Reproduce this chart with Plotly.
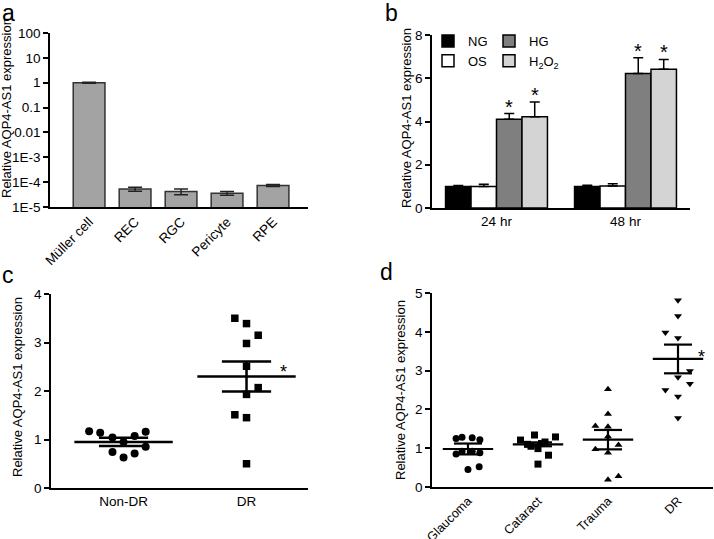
import plotly.graph_objects as go

FONT = "Liberation Sans, Arial, sans-serif"

# ---------------- data ----------------
# panel a
cells = ["Müller cell", "REC", "RGC", "Pericyte", "RPE"]
cell_expr = [1.0, 5.3e-5, 4.2e-5, 3.6e-5, 7.4e-5]
cell_err = [0.05, 1.0e-5, 1.1e-5, 0.6e-5, 0.7e-5]
a_tickvals = [1e-5, 1e-4, 1e-3, 1e-2, 1e-1, 1, 10, 100]
a_ticktext = ["1E-5", "1E-4", "1E-3", "0.01", "0.1", "1", "10", "100"]

# panel b
times = ["24 hr", "48 hr"]
b_names = ["NG", "OS", "HG", "H<sub>2</sub>O<sub>2</sub>"]
b_vals = [[1.0, 1.0], [1.0, 1.02], [4.1, 6.22], [4.22, 6.42]]
b_errs = [[0.04, 0.05], [0.1, 0.1], [0.27, 0.73], [0.68, 0.45]]
b_sig = [False, False, True, True]

# panel c
c_groups = ["Non-DR", "DR"]
c_vals = [
    [1.17, 1.14, 1.04, 0.95, 1.07, 1.16, 0.74, 0.63, 0.71, 0.85],
    [3.50, 3.39, 3.15, 2.98, 2.51, 2.07, 1.93, 1.51, 1.45, 0.50],
]
c_jitter = [
    [-0.28, -0.19, -0.09, 0.0, 0.09, 0.18, -0.09, 0.0, 0.09, 0.18],
    [-0.095, 0.0, 0.095, 0.0, 0.0, 0.095, 0.0, -0.095, 0.0, 0.0],
]
c_mean = [0.95, 2.30]
c_sem = [0.085, 0.31]

# panel d
d_groups = ["Glaucoma", "Cataract", "Trauma", "DR"]
d_vals = [
    [1.25, 1.28, 1.27, 1.22, 0.85, 0.92, 0.92, 0.88, 0.45, 0.52],
    [1.21, 1.34, 1.29, 1.10, 0.99, 1.16, 0.82, 0.59, 1.05, 1.12],
    [2.52, 1.88, 1.57, 1.55, 1.08, 0.97, 0.88, 1.30, 0.19, 0.28],
    [4.81, 4.41, 3.98, 3.84, 2.99, 2.83, 2.66, 2.50, 2.33, 1.78],
]
d_jitter = [
    [-0.17, -0.085, 0.06, 0.17, -0.17, -0.085, 0.06, 0.17, 0.0, 0.16],
    [-0.25, -0.05, 0.25, -0.15, 0.0, 0.1, 0.15, 0.0, -0.1, 0.05],
    [0.0, 0.0, -0.18, 0.0, 0.15, -0.18, 0.0, 0.0, 0.0, 0.15],
    [0.0, 0.0, -0.18, 0.0, 0.17, 0.0, 0.17, -0.18, 0.0, 0.0],
]
d_mean = [0.98, 1.10, 1.22, 3.30]
d_sem = [0.14, 0.05, 0.25, 0.37]
d_symbols = ["circle", "square", "triangle-up", "triangle-down"]

W, H = 714, 539
fig = go.Figure()

# ---------------- panel a ----------------
fig.add_trace(go.Bar(
    x=cells, y=cell_expr, width=0.69,
    marker=dict(color="#a3a3a3", line=dict(color="#333333", width=1.5)),
    error_y=dict(type="data", array=cell_err, color="#222222", thickness=1.5, width=7),
    xaxis="x", yaxis="y", showlegend=False,
))

# ---------------- panel b ----------------
b_colors = ["#000000", "#ffffff", "#7f7f7f", "#d4d4d4"]
b_legend = ["legend", "legend", "legend2", "legend2"]
for k in range(4):
    fig.add_trace(go.Bar(
        x=times, y=b_vals[k], name=b_names[k],
        marker=dict(color=b_colors[k], line=dict(color="#000000", width=1.5)),
        error_y=dict(type="data", array=b_errs[k], arrayminus=[0] * len(times),
                     symmetric=False, color="#000000", thickness=1.5, width=5),
        xaxis="x2", yaxis="y2", legend=b_legend[k],
    ))

# ---------------- panel c ----------------
c_symbols = ["circle", "square"]
for i, g in enumerate(c_groups):
    fig.add_trace(go.Scatter(
        x=[i + j for j in c_jitter[i]], y=c_vals[i], mode="markers",
        marker=dict(symbol=c_symbols[i], size=8 if i == 0 else 7.5, color="black"),
        xaxis="x3", yaxis="y3", showlegend=False,
    ))
for i, g in enumerate(c_groups):
    m, s = c_mean[i], c_sem[i]
    fig.add_trace(go.Scatter(
        x=[i - 0.40, i + 0.40], y=[m, m], mode="lines",
        line=dict(color="black", width=2.5), xaxis="x3", yaxis="y3", showlegend=False))
    fig.add_trace(go.Scatter(
        x=[i - 0.2, i + 0.2, None, i - 0.2, i + 0.2, None, i, i],
        y=[m + s, m + s, None, m - s, m - s, None, m - s, m + s], mode="lines",
        line=dict(color="black", width=2.5), xaxis="x3", yaxis="y3", showlegend=False))

# ---------------- panel d ----------------
for i, g in enumerate(d_groups):
    fig.add_trace(go.Scatter(
        x=[i + j for j in d_jitter[i]], y=d_vals[i], mode="markers",
        marker=dict(symbol=d_symbols[i], size=7, color="black"),
        xaxis="x4", yaxis="y4", showlegend=False,
    ))
for i, g in enumerate(d_groups):
    m, s = d_mean[i], d_sem[i]
    fig.add_trace(go.Scatter(
        x=[i - 0.36, i + 0.36], y=[m, m], mode="lines",
        line=dict(color="black", width=2.2), xaxis="x4", yaxis="y4", showlegend=False))
    fig.add_trace(go.Scatter(
        x=[i - 0.2, i + 0.2, None, i - 0.2, i + 0.2, None, i, i],
        y=[m + s, m + s, None, m - s, m - s, None, m - s, m + s], mode="lines",
        line=dict(color="black", width=2.2), xaxis="x4", yaxis="y4", showlegend=False))

# ---------------- axes ----------------
def px_x(p):
    return p / W

def px_y(p):
    return 1 - p / H

TICKSIZE = 13.5
axis_common = dict(showline=True, linecolor="black", linewidth=1.5, showgrid=False,
                   zeroline=False, automargin=False,
                   tickfont=dict(size=TICKSIZE, color="black", family=FONT))
yaxis_common = dict(axis_common, ticks="outside", ticklen=5, tickwidth=1.5, tickcolor="black")
xaxis_common = dict(axis_common, ticks="")

annotations = []
# stars panel b
bw = (1 - 0.21) / 4
for k in range(4):
    if b_sig[k]:
        for t in range(len(times)):
            annotations.append(dict(
                x=t + (k - 1.5) * bw, y=b_vals[k][t] + b_errs[k][t], xref="x2", yref="y2",
                text="*", showarrow=False, yanchor="bottom", yshift=-6,
                font=dict(size=20, color="black", family=FONT)))
# stars c, d
annotations.append(dict(x=1.30, y=c_mean[1], xref="x3", yref="y3", text="*", showarrow=False,
                        yanchor="middle", yshift=4, font=dict(size=18, color="black", family=FONT)))
annotations.append(dict(x=3.34, y=d_mean[3], xref="x4", yref="y4", text="*", showarrow=False,
                        yanchor="middle", yshift=2, font=dict(size=18, color="black", family=FONT)))

# y titles
ytitle = "Relative AQP4-AS1 expression"
for (cx, cy) in [(7, 108), (406, 118), (17, 387), (400, 390)]:
    annotations.append(dict(x=px_x(cx), y=px_y(cy), xref="paper", yref="paper", text=ytitle,
                            textangle=-90, showarrow=False, xanchor="center", yanchor="middle",
                            font=dict(size=13, color="black", family=FONT)))
# panel letters
for (lx, ly, t) in [(0, -2, "a"), (383, -2, "b"), (0, 260, "c"), (378, 257, "d")]:
    annotations.append(dict(x=px_x(lx), y=px_y(ly), xref="paper", yref="paper", text=t,
                            showarrow=False, xanchor="left", yanchor="top",
                            font=dict(size=23, color="black", family=FONT)))

fig.update_layout(
    width=W, height=H, margin=dict(l=0, r=0, t=0, b=0, pad=0, autoexpand=False),
    paper_bgcolor="white", plot_bgcolor="white",
    font=dict(family=FONT, color="black"),
    barmode="group", bargap=0.21,
    xaxis=dict(xaxis_common, domain=[px_x(50), px_x(308)], anchor="y", range=[-0.85, 4.76],
               tickangle=-45),
    yaxis=dict(yaxis_common, domain=[px_y(207), px_y(33)], anchor="x", type="log",
               range=[-5, 2], tickvals=a_tickvals, ticktext=a_ticktext),
    xaxis2=dict(xaxis_common, domain=[px_x(432), px_x(690)], anchor="y2", range=[-0.5, 1.5]),
    yaxis2=dict(yaxis_common, domain=[px_y(208), px_y(35)], anchor="x2", range=[0, 8], dtick=2),
    xaxis3=dict(xaxis_common, domain=[px_x(51), px_x(308)], anchor="y3", range=[-0.59, 1.50],
                tickvals=[0, 1], ticktext=c_groups),
    yaxis3=dict(yaxis_common, domain=[px_y(488), px_y(294)], anchor="x3", range=[0, 4], dtick=1),
    xaxis4=dict(xaxis_common, domain=[px_x(432), px_x(713)], anchor="y4", range=[-0.514, 3.50],
                tickvals=[0, 1, 2, 3], ticktext=d_groups, tickangle=-45,
                tickfont=dict(size=12.5, color="black", family=FONT)),
    yaxis4=dict(yaxis_common, domain=[px_y(487), px_y(293)], anchor="x4", range=[0, 5], dtick=1),
    legend=dict(x=px_x(428), y=px_y(26), xanchor="left", yanchor="top", bgcolor="rgba(0,0,0,0)",
                font=dict(size=13, family=FONT, color="black"), tracegroupgap=0, itemwidth=30),
    legend2=dict(x=px_x(489), y=px_y(26), xanchor="left", yanchor="top", bgcolor="rgba(0,0,0,0)",
                 font=dict(size=13, family=FONT, color="black"), tracegroupgap=0, itemwidth=30),
    annotations=annotations,
)

fig.write_html("out.html", config={"displayModeBar": False},
               post_script="document.body.style.margin='0';document.body.style.padding='0';")
